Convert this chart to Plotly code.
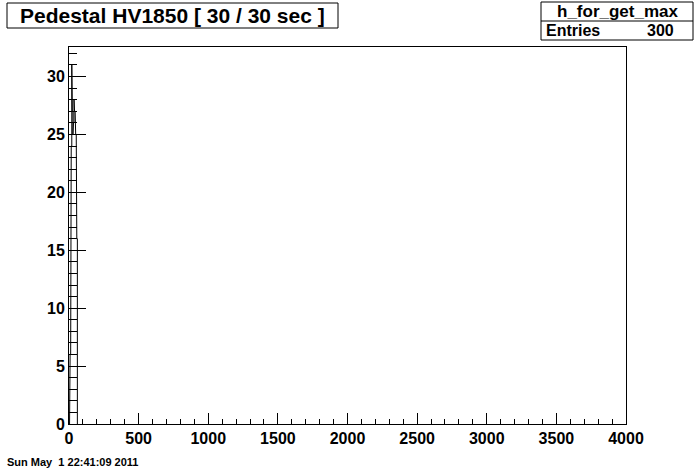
import plotly.graph_objects as go

# Histogram data (bin low edges, bin width, contents)
bin_low = [4, 8, 12, 16, 20, 24, 28, 32, 36, 40, 44, 48, 52, 56]
bin_width = 4
counts = [3, 6, 12, 24, 31, 27, 25, 26, 28, 27, 26, 25, 24, 16]

title_text = "Pedestal HV1850 [ 30 / 30 sec ]"
stats_name = "h_for_get_max"
stats_entries = "300"
date_text = "Sun May  1 22:41:09 2011"

# Build step outline from the bins
xs, ys = [bin_low[0]], [0]
for lo, c in zip(bin_low, counts):
    xs += [lo, lo + bin_width]
    ys += [c, c]
xs.append(bin_low[-1] + bin_width)
ys.append(0)

FONT = "Liberation Sans"

# plot area in page pixels
PX0, PX1, PY0, PY1 = 69, 626, 47, 424
PW, PH = PX1 - PX0, PY1 - PY0


def px(x):
    return (x - PX0) / PW


def py(y):
    return (PY1 - y) / PH


fig = go.Figure()
fig.add_trace(go.Scatter(x=xs, y=ys, mode="lines",
                         line=dict(color="black", width=1),
                         hoverinfo="skip", showlegend=False))

axis_common = dict(showgrid=False, zeroline=False, showline=True, mirror=True,
                   linecolor="black", linewidth=1, ticks="inside",
                   tickcolor="black", tickwidth=1,
                   tickfont=dict(family=FONT, size=16, color="black", weight="bold"))

fig.update_layout(
    width=696, height=472,
    margin=dict(l=PX0, r=696 - PX1, t=PY0, b=472 - PY1),
    paper_bgcolor="white", plot_bgcolor="white",
    xaxis=dict(range=[0, 4000], dtick=500, tick0=0, ticklen=11,
               minor=dict(ticks="inside", dtick=100, ticklen=5, tickcolor="black"),
               **axis_common),
    yaxis=dict(range=[0, 32.55], dtick=5, tick0=0, ticklen=17,
               minor=dict(ticks="inside", dtick=1, ticklen=8, tickcolor="black"),
               **axis_common),
)

# Title box
fig.add_shape(type="rect", xref="paper", yref="paper",
              x0=px(7), x1=px(338), y0=py(28), y1=py(3),
              line=dict(color="black", width=1), fillcolor="white")
fig.add_annotation(xref="paper", yref="paper", x=px(172), y=py(16),
                   text=title_text, showarrow=False, xanchor="center", yanchor="middle",
                   font=dict(family=FONT, size=21, color="black", weight="bold"))

# Stats box
fig.add_shape(type="rect", xref="paper", yref="paper",
              x0=px(541), x1=px(693), y0=py(40), y1=py(2),
              line=dict(color="black", width=1), fillcolor="white")
fig.add_shape(type="line", xref="paper", yref="paper",
              x0=px(541), x1=px(693), y0=py(21), y1=py(21),
              line=dict(color="black", width=1))
fig.add_annotation(xref="paper", yref="paper", x=px(617), y=py(11),
                   text=stats_name, showarrow=False, xanchor="center", yanchor="middle",
                   font=dict(family=FONT, size=17, color="black", weight="bold"))
fig.add_annotation(xref="paper", yref="paper", x=px(544), y=py(31),
                   text="Entries", showarrow=False, xanchor="left", yanchor="middle",
                   font=dict(family=FONT, size=16, color="black", weight="bold"))
fig.add_annotation(xref="paper", yref="paper", x=px(676), y=py(31),
                   text=stats_entries, showarrow=False, xanchor="right", yanchor="middle",
                   font=dict(family=FONT, size=16, color="black", weight="bold"))

# Date stamp
fig.add_annotation(xref="paper", yref="paper", x=px(5), y=py(462),
                   text=date_text, showarrow=False, xanchor="left", yanchor="middle",
                   font=dict(family=FONT, size=11, color="black", weight="bold"))

fig.write_html("out.html", config={"displayModeBar": False},
               post_script="document.body.style.margin='0';document.body.style.padding='0';")
